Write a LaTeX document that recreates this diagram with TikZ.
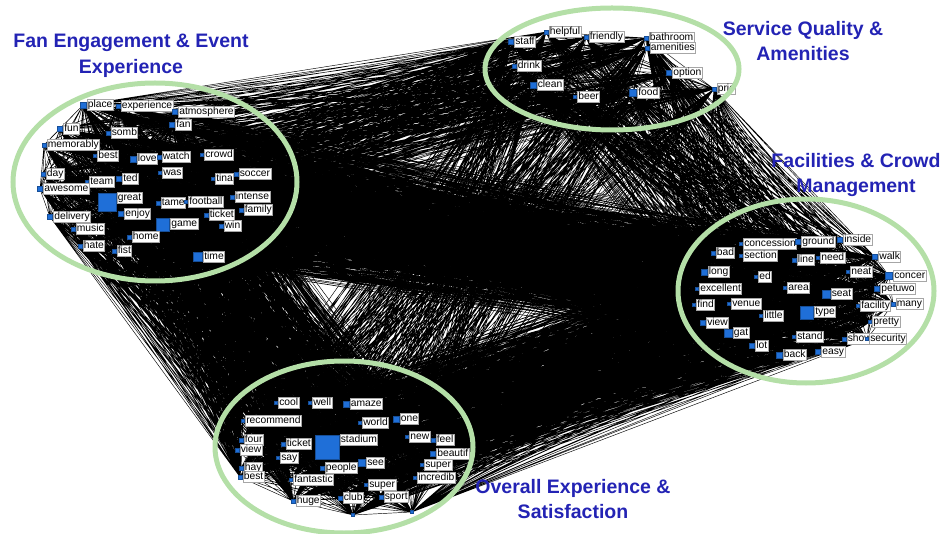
\documentclass[tikz,border=0pt]{standalone}
\usepackage{fontspec}
\setmainfont{Liberation Sans}
\usetikzlibrary{backgrounds}
\definecolor{nodeblue}{HTML}{1F6FD8}
\definecolor{ringgreen}{HTML}{B4DFA7}
\definecolor{titleblue}{HTML}{2323B4}
\tikzset{
  edge/.style={line width=0.45pt, black},
  sq/.style={rectangle, fill=nodeblue, draw=nodeblue!70!black, line width=0.2pt, inner sep=0pt, minimum size=#1},
  lab/.style={fill=white, draw=gray!70, line width=0.4pt, inner sep=0.7pt, font=\fontsize{10.3}{11}\selectfont, text height=7.6pt, text depth=2.2pt},
  ring/.style={draw=ringgreen, line width=5pt},
  ttl/.style={text=titleblue, font=\fontsize{19.5}{25.5}\selectfont\bfseries, align=center},
}
% all edges between two clusters, and inside one cluster
\newcommand\linkall[4]{\draw[edge] \foreach \i in {1,...,#2}{\foreach \j in {1,...,#4}{(#1\i.center) -- (#3\j.center)}};}
\newcommand\linkin[2]{\draw[edge] \foreach \i in {1,...,#2}{\foreach \j in {\i,...,#2}{(#1\i.center) -- (#1\j.center)}};}

\begin{document}
\begin{tikzpicture}[x=1pt,y=-1pt]
  \useasboundingbox (0,0) rectangle (944,534);

  % fan engagement cluster
  \foreach \w/\x/\y/\s [count=\i] in {place/83/105/6, experience/118/106/4, atmosphere/175/112/5, fan/172/125/5,
      fun/60/129/5, somb/108/133/4, memorably/44/145/4, best/95/156/3, love/133/159/6, watch/159/157/4,
      crowd/202/155/3, day/43/174/4, team/87/182/3, ted/119/179/5, was/160/173/3, tina/213/179/3,
      soccer/236/174/4, awesome/40/189/5, great/107/202/18, tame/158/203/4, football/186/202/3,
      intense/232/197/4, family/241/210/4, enjoy/121/214/5, delivery/50/217/5, ticket/206/215/4,
      game/163/225/13, win/221/226/4, music/73/229/4, home/129/237/4, hate/80/246/4, fist/114/251/4,
      time/198/257/9} {
    \pgfmathsetmacro\ls{max(0,(\s-10)/2)}
    \node[sq=\s pt, label={[lab, anchor=west, label distance=0.8pt, yshift=\ls pt]east:\w}] (A\i) at (\x,\y) {};
  }

  % service cluster
  \foreach \w/\x/\y/\s [count=\i] in {staff/511/42/5, helpful/546/32/4, friendly/586/37/4, bathroom/646/38/4,
      amenities/647/48/4, drink/514/66/4, option/669/73/5, clean/533/85/6, beer/575/97/3, food/633/93/7,
      pric/714/89/4} {
    \pgfmathsetmacro\ls{max(0,(\s-10)/2)}
    \node[sq=\s pt, label={[lab, anchor=west, label distance=0.8pt, yshift=\ls pt]east:\w}] (B\i) at (\x,\y) {};
  }

  % facilities cluster
  \foreach \w/\x/\y/\s [count=\i] in {concession/741/244/3, ground/798/242/5, inside/840/240/5, bad/713/253/4,
      section/741/256/3, line/794/260/4, need/818/258/3, walk/875/257/5, long/704/272/6, ed/756/277/3,
      neat/848/272/3, concer/889/276/7, excellent/697/289/3, area/785/288/3, seat/826/294/8,
      petuwo/877/289/5, find/694/305/3, venue/729/304/3, type/807/313/13, facility/858/306/3,
      many/893/304/4, little/761/316/3, view/703/323/5, gat/728/333/8, pretty/870/322/3,
      stand/794/337/3, show/844/339/4, security/867/339/3, lot/752/346/5, back/779/355/6,
      easy/818/352/5} {
    \pgfmathsetmacro\ls{max(0,(\s-10)/2)}
    \node[sq=\s pt, label={[lab, anchor=west, label distance=0.8pt, yshift=\ls pt]east:\w}] (C\i) at (\x,\y) {};
  }

  % overall experience cluster
  \foreach \w/\x/\y/\s [count=\i] in {cool/276/403/3, well/310/403/3, amaze/346/404/6, recommend/243/421/3,
      one/396/419/6, world/360/423/3, stadium/327/447/24, new/407/437/3, feel/433/440/4, four/241/440/4,
      ticket/283/444/4, view/237/450/4, beautif/433/454/5, say/278/458/3, see/362/463/7, people/322/468/4,
      super/422/465/3, hay/241/468/4, best/240/477/4, fantastic/291/480/3, incredib/415/478/3,
      super/366/485/3, club/340/498/4, sport/381/497/4, huge/293/501/4} {
    \pgfmathsetmacro\ls{max(0,(\s-10)/2)}
    \node[sq=\s pt, label={[lab, anchor=west, label distance=0.8pt, yshift=\ls pt]east:\w}] (D\i) at (\x,\y) {};
  }
  \node[sq=3pt] (D26) at (353,515) {};
  \node[sq=3pt] (D27) at (412,512) {};

  \begin{pgfonlayer}{background}
    \linkin{A}{33}
    \linkin{B}{11}
    \linkin{C}{31}
    \linkin{D}{27}
    \linkall{A}{33}{B}{11}
    \linkall{A}{33}{C}{31}
    \linkall{A}{33}{D}{27}
    \linkall{B}{11}{C}{31}
    \linkall{B}{11}{D}{27}
    \linkall{C}{31}{D}{27}
  \end{pgfonlayer}

  % rings round the clusters
  \draw[ring] (155,182) ellipse [x radius=142, y radius=99];
  \draw[ring] (612,69) ellipse [x radius=127, y radius=61];
  \draw[ring] (806,291) ellipse [x radius=128, y radius=92];
  \draw[ring] (344,447) ellipse [x radius=129, y radius=86];

  \node[ttl] (tfan) at (131,56) {Fan Engagement \& Event\\Experience};
  \node[ttl] (tsvc) at (803,41) {Service Quality \&\\Amenities};
  \node[ttl] (tfac) at (856,175) {Facilities \& Crowd\\Management};
  \node[ttl] (tove) at (573,499) {Overall Experience \&\\Satisfaction};
\end{tikzpicture}
\end{document}
